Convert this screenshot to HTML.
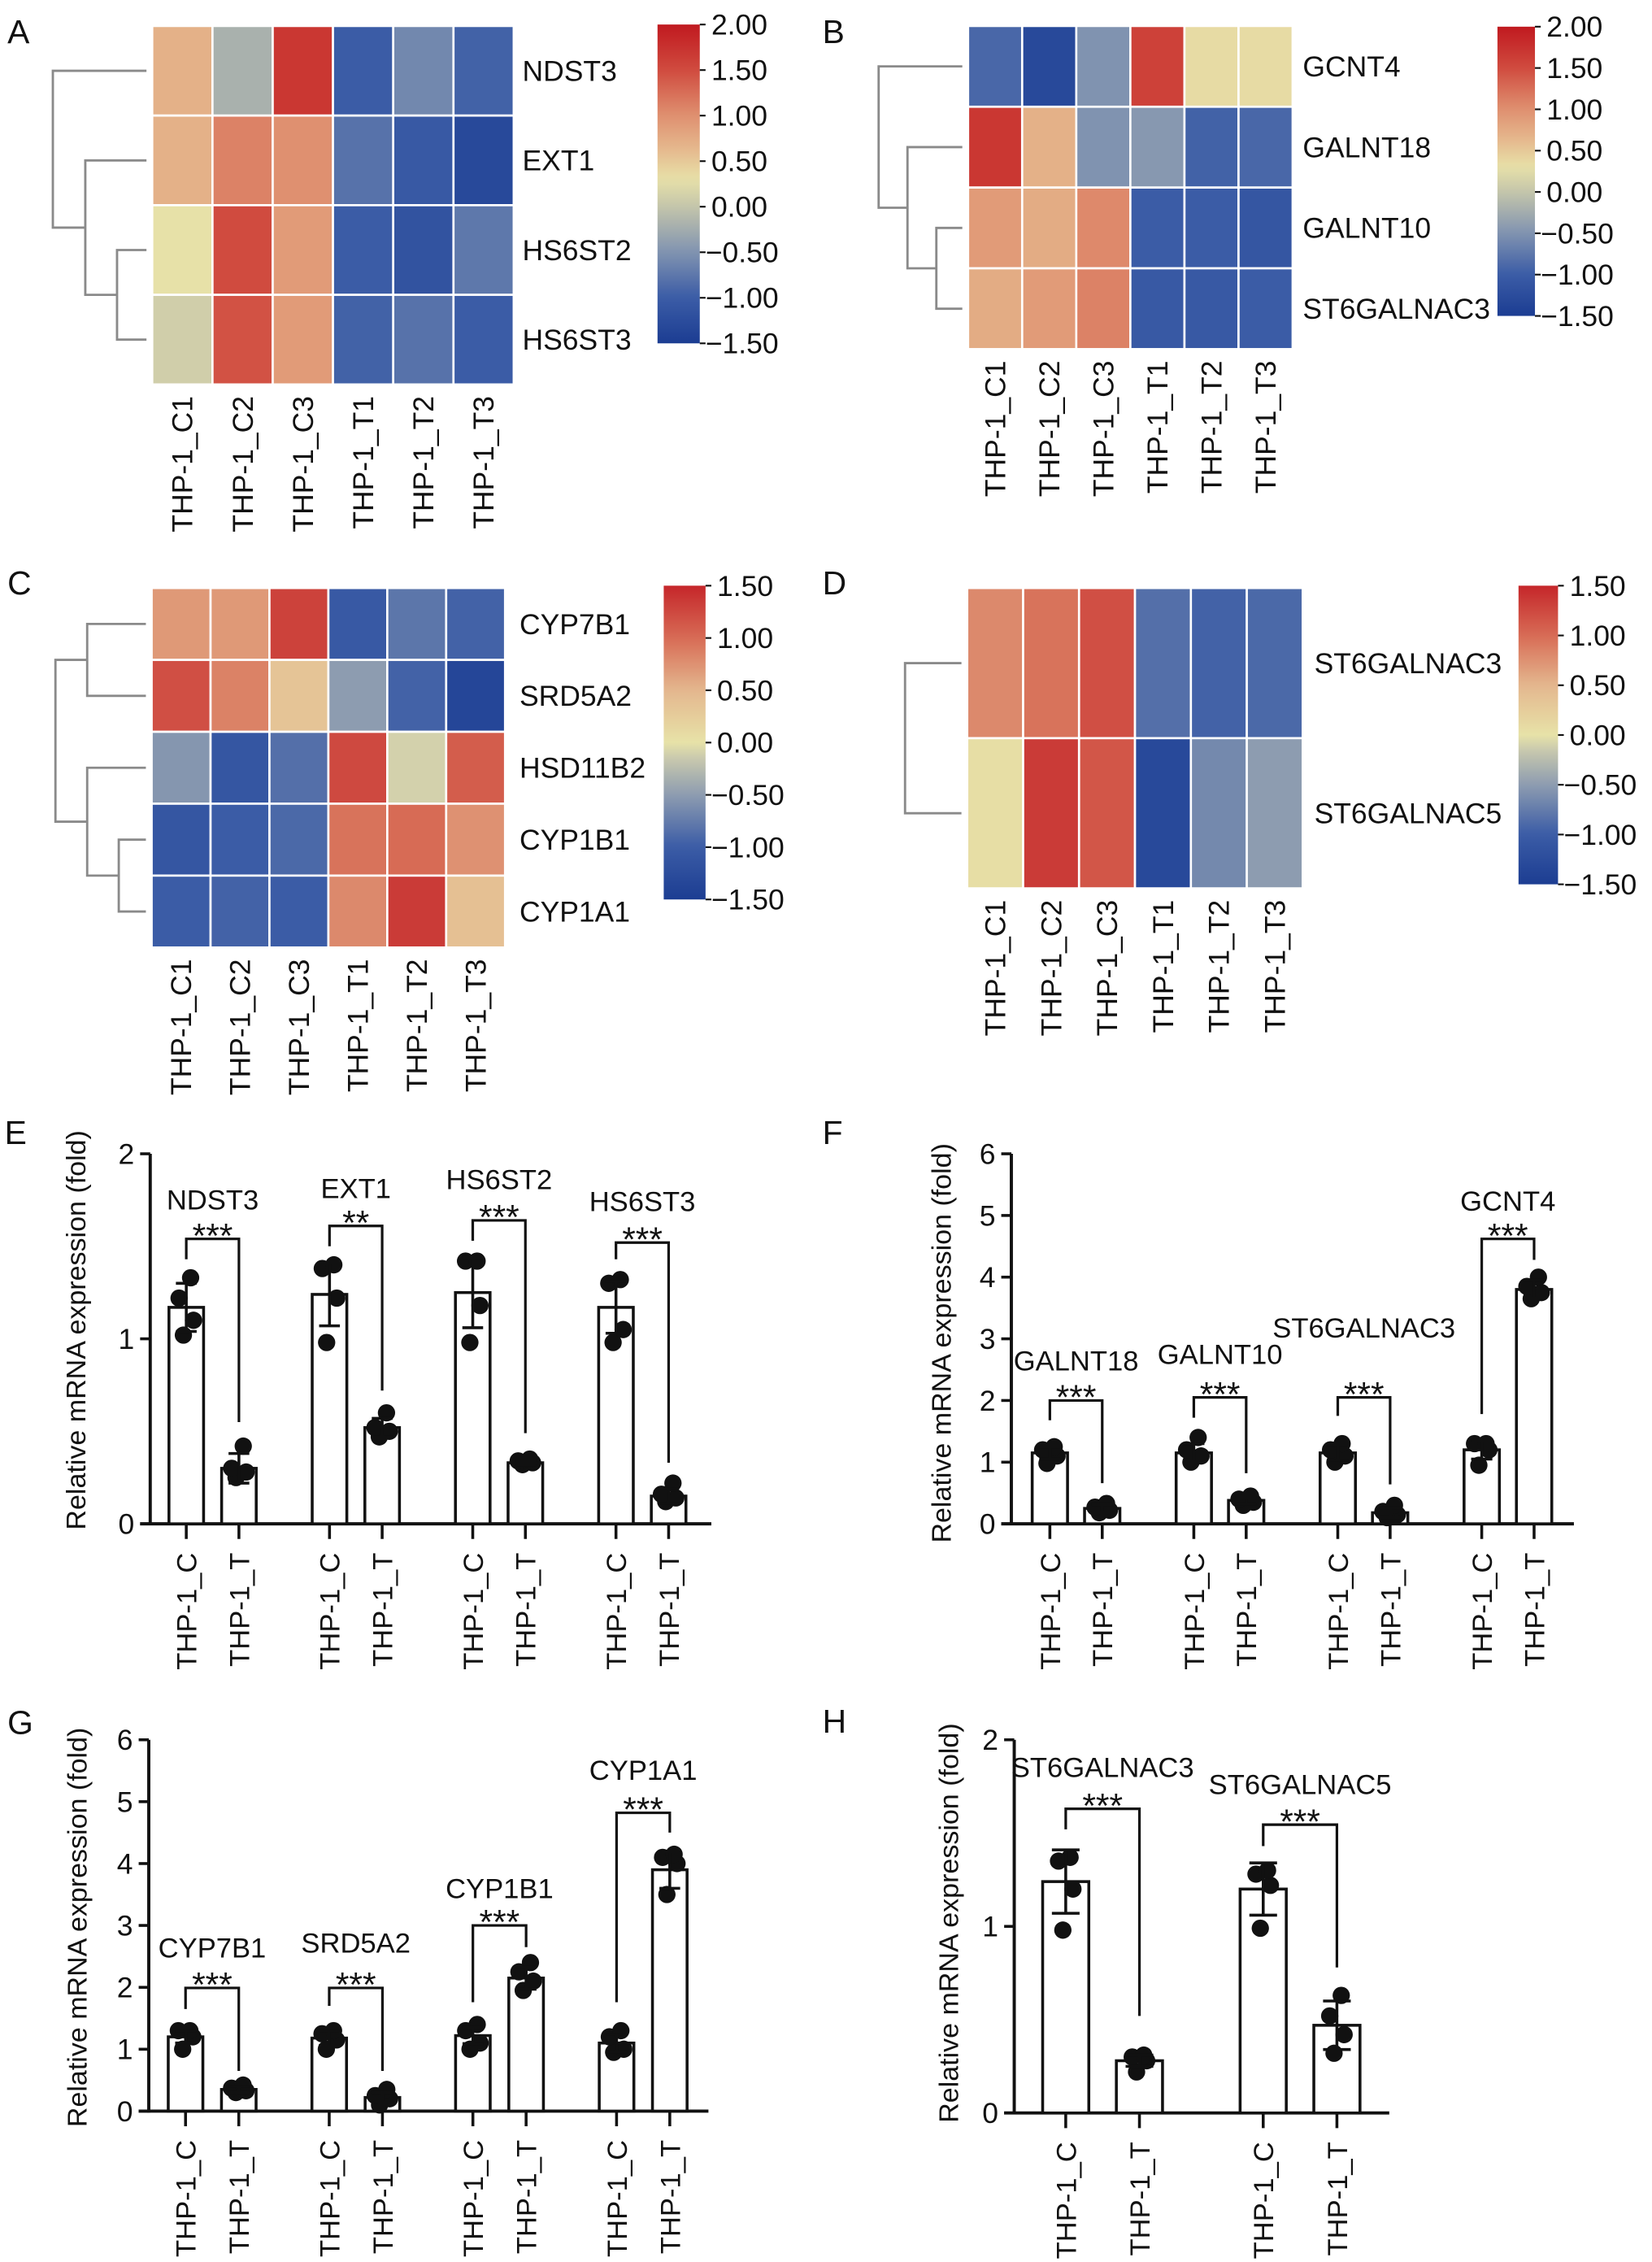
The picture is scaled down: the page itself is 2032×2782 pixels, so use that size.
<!DOCTYPE html>
<html><head><meta charset="utf-8"><style>
html,body{margin:0;padding:0;background:#fff;}
svg{display:block;font-family:"Liberation Sans",Arial,sans-serif;}
</style></head><body>
<svg id="fig" xmlns="http://www.w3.org/2000/svg" width="2032" height="2782" viewBox="0 0 1145 1568">
<rect x="0" y="0" width="1145" height="1568" fill="#fff"/>
<g font-size="23" fill="#111">
<text x="5" y="30">A</text>
<text x="570" y="30">B</text>
<text x="5" y="412">C</text>
<text x="570" y="412">D</text>
<text x="3" y="793">E</text>
<text x="570" y="793">F</text>
<text x="5" y="1202">G</text>
<text x="570" y="1201">H</text>
</g>
</svg>
<script>
// ===== Heatmap data =====
const hmCols = ['THP-1_C1','THP-1_C2','THP-1_C3','THP-1_T1','THP-1_T2','THP-1_T3'];
const rowsA = ['NDST3','EXT1','HS6ST2','HS6ST3'];
const valsA = [[0.7,-0.2,1.7,-1.0,-0.6,-0.95],[0.7,1.1,1.0,-0.8,-1.05,-1.3],[0.3,1.5,0.9,-1.0,-1.15,-0.75],[0.1,1.45,0.9,-0.95,-0.8,-1.0]];
const rowsB = ['GCNT4','GALNT18','GALNT10','ST6GALNAC3'];
const valsB = [[-0.9,-1.3,-0.5,1.6,0.35,0.35],[1.7,0.7,-0.5,-0.45,-0.95,-0.9],[0.9,0.75,1.05,-1.0,-1.0,-1.1],[0.75,0.9,1.1,-1.05,-1.05,-1.0]];
const rowsC = ['CYP7B1','SRD5A2','HSD11B2','CYP1B1','CYP1A1'];
const valsC = [[0.7,0.7,1.3,-1.05,-0.8,-0.95],[1.2,0.85,0.35,-0.5,-0.95,-1.35],[-0.55,-1.1,-0.85,1.25,-0.1,1.1],[-1.1,-1.0,-0.9,0.95,1.0,0.75],[-1.0,-0.95,-1.0,0.8,1.35,0.4]];
const rowsD = ['ST6GALNAC3','ST6GALNAC5'];
const valsD = [[0.8,0.95,1.2,-0.85,-0.95,-0.9],[0.05,1.35,1.15,-1.3,-0.65,-0.5]];
const ticksAB = [2.0,1.5,1.0,0.5,0.0,-0.5,-1.0,-1.5];
const ticksCD = [1.5,1.0,0.5,0.0,-0.5,-1.0,-1.5];
const stopsAB = [[-1.5,'#1c3d92'],[-1.0,'#3b5ca6'],[-0.5,'#8093b0'],[0.0,'#c4c5ab'],[0.3,'#e7e1a8'],[0.6,'#e6bc90'],[1.0,'#df9070'],[1.5,'#d04b3f'],[2.0,'#c0191f']];
const stopsCD = [[-1.5,'#1c3d92'],[-1.0,'#3b5ca6'],[-0.5,'#8d9cb0'],[-0.15,'#c9c9ae'],[0.0,'#e7e2a8'],[0.5,'#e4b78e'],[1.0,'#d76b55'],[1.5,'#c5262a']];

// ===== Bar chart data =====
const catsE = ['NDST3','EXT1','HS6ST2','HS6ST3'];
const meanCE = [1.17,1.24,1.25,1.17];
const sdCE = [0.13,0.17,0.19,0.14];
const ptsCE = [[1.02,1.10,1.22,1.33],[0.98,1.22,1.38,1.40],[0.98,1.18,1.42,1.42],[0.98,1.05,1.30,1.32]];
const meanTE = [0.30,0.52,0.33,0.15];
const sdTE = [0.08,0.05,0.01,0.04];
const ptsTE = [[0.25,0.28,0.30,0.42],[0.47,0.50,0.52,0.60],[0.32,0.33,0.34,0.35],[0.12,0.14,0.16,0.22]];
const sigE = ['***','**','***','***'];
const brE = [1.54,1.61,1.64,1.52];
const brLE = [1.43,1.50,1.53,1.43];
const brRE = [0.55,0.72,0.49,0.33];
const lblE = [1.70,1.76,1.81,1.69];
const ticksE = [0,1,2];

const catsF = ['GALNT18','GALNT10','ST6GALNAC3','GCNT4'];
const meanCF = [1.15,1.15,1.15,1.20];
const sdCF = [0.10,0.15,0.12,0.15];
const ptsCF = [[0.98,1.10,1.20,1.25],[1.00,1.10,1.20,1.40],[1.00,1.10,1.20,1.30],[0.95,1.20,1.30,1.30]];
const meanTF = [0.25,0.38,0.18,3.80];
const sdTF = [0.06,0.06,0.08,0.15];
const ptsTF = [[0.18,0.22,0.27,0.33],[0.30,0.35,0.40,0.45],[0.10,0.15,0.20,0.30],[3.65,3.75,3.85,4.00]];
const sigF = ['***','***','***','***'];
const brF = [2.0,2.05,2.05,4.62];
const brLF = [1.68,1.72,1.75,1.78];
const brRF = [0.66,0.82,0.64,4.28];
const lblF = [2.49,2.59,3.02,5.08];
const ticksF = [0,1,2,3,4,5,6];

const catsG = ['CYP7B1','SRD5A2','CYP1B1','CYP1A1'];
const meanCG = [1.20,1.18,1.22,1.10];
const sdCG = [0.10,0.12,0.13,0.14];
const ptsCG = [[1.00,1.20,1.30,1.30],[1.00,1.15,1.25,1.30],[1.00,1.10,1.30,1.40],[0.95,1.00,1.20,1.30]];
const meanTG = [0.35,0.22,2.15,3.90];
const sdTG = [0.05,0.08,0.18,0.30];
const ptsTG = [[0.30,0.33,0.37,0.42],[0.10,0.20,0.25,0.35],[1.95,2.10,2.25,2.40],[3.50,4.00,4.10,4.15]];
const sigG = ['***','***','***','***'];
const brG = [1.99,1.99,3.0,4.82];
const brLG = [1.65,1.70,1.76,1.76];
const brRG = [0.65,0.65,2.65,4.50];
const lblG = [2.48,2.56,3.44,5.35];
const ticksG = [0,1,2,3,4,5,6];

const catsH = ['ST6GALNAC3','ST6GALNAC5'];
const meanCH = [1.24,1.20];
const sdCH = [0.17,0.14];
const ptsCH = [[0.98,1.20,1.35,1.37],[0.99,1.22,1.28,1.30]];
const meanTH = [0.28,0.47];
const sdTH = [0.03,0.13];
const ptsTH = [[0.22,0.28,0.30,0.31],[0.32,0.42,0.52,0.63]];
const sigH = ['***','***'];
const brH = [1.63,1.545];
const brLH = [1.52,1.43];
const brRH = [0.52,0.78];
const lblH = [1.80,1.71];
const ticksH = [0,1,2];

const NS = 'http://www.w3.org/2000/svg';
const svg = document.getElementById('fig');
function el(tag, attrs, parent){
  const e = document.createElementNS(NS, tag);
  for (const k in attrs) e.setAttribute(k, attrs[k]);
  (parent||svg).appendChild(e);
  return e;
}
function hex2rgb(h){return [parseInt(h.substr(1,2),16),parseInt(h.substr(3,2),16),parseInt(h.substr(5,2),16)];}
function cmap(stops, v){
  if (v<=stops[0][0]) return stops[0][1];
  for (let i=1;i<stops.length;i++){
    if (v<=stops[i][0]){
      const t=(v-stops[i-1][0])/(stops[i][0]-stops[i-1][0]);
      const a=hex2rgb(stops[i-1][1]), b=hex2rgb(stops[i][1]);
      return 'rgb('+a.map((c,j)=>Math.round(c+(b[j]-c)*t)).join(',')+')';
    }
  }
  return stops[stops.length-1][1];
}

let gradId = 0;
function heatmap(cfg){
  const g = el('g', {});
  
  
  const nr = cfg.rows.length, nc = hmCols.length;
  const cw = (cfg.x1-cfg.x0)/nc, rh = (cfg.y1-cfg.y0)/nr;
  for (let r=0;r<nr;r++){
    for (let c=0;c<nc;c++){
      const cell = el('rect', {x:cfg.x0+c*cw, y:cfg.y0+r*rh, width:cw, height:rh, fill:cmap(cfg.stops,cfg.vals[r][c]), stroke:'#fff', 'stroke-width':1.5}, g);
      
      
    }
    const t = el('text', {x:cfg.labelX, y:cfg.y0+(r+0.5)*rh+7, 'font-size':20, fill:'#111'}, g);
    t.textContent = cfg.rows[r];
    
    
  }
  for (let c=0;c<nc;c++){
    const cx = cfg.x0+(c+0.5)*cw+7, cy = cfg.y1+8;
    const t = el('text', {x:cx, y:cy, 'font-size':20, 'text-anchor':'end', transform:'rotate(-90 '+cx+' '+cy+')', fill:'#111'}, g);
    t.textContent = hmCols[c];
    
    
  }
  const rowY = r => cfg.y0+(r+0.5)*rh;
  const leafX = cfg.x0-4;
  function drawNode(n){
    if (typeof n === 'number') return {x:leafX, y:rowY(n)};
    const a = drawNode(n.c[0]), b = drawNode(n.c[1]);
    const p = el('path', {d:'M'+a.x+' '+a.y+'H'+n.x+'V'+b.y+'H'+b.x, fill:'none', stroke:'#8a8a8a', 'stroke-width':1.6}, g);
    
    
    return {x:n.x, y:(a.y+b.y)/2};
  }
  drawNode(cfg.tree);
  const id = 'grad'+(gradId++);
  const defs = el('defs', {}, g);
  const lg = el('linearGradient', {id:id, x1:0, y1:1, x2:0, y2:0}, defs);
  const vmin = cfg.ticks[cfg.ticks.length-1], vmax = cfg.ticks[0];
  for (let i=0;i<=40;i++){
    const v = vmin+(vmax-vmin)*i/40;
    el('stop', {offset:(i/40), 'stop-color':cmap(cfg.stops,v)}, lg);
  }
  const cb = el('rect', {x:cfg.cbx0, y:cfg.cby0, width:cfg.cbx1-cfg.cbx0, height:cfg.cby1-cfg.cby0, fill:'url(#'+id+')'}, g);
  
  
  const yv = v => cfg.cby1-(v-vmin)/(vmax-vmin)*(cfg.cby1-cfg.cby0);
  cfg.ticks.forEach(v=>{
    const tk = el('line', {x1:cfg.cbx1, x2:cfg.cbx1+4, y1:yv(v), y2:yv(v), stroke:'#111', 'stroke-width':1.2}, g);
    
    
    const t = el('text', {x:cfg.cbx1+(v<0?4:8), y:yv(v)+7, 'font-size':20, fill:'#111'}, g);
    t.textContent = (v<0?'\u2212':'')+Math.abs(v).toFixed(2);
    
    
  });
}

heatmap({name:'heatmap-a', rows:rowsA, vals:valsA, stops:stopsAB, ticks:ticksAB, x0:105.4, x1:356, y0:18, y1:266.5, labelX:362,
  cbx0:455.7, cbx1:485, cby0:17, cby1:238,
  tree:{x:36.5, c:[0,{x:59, c:[1,{x:81, c:[2,3]}]}]}});
heatmap({name:'heatmap-b', rows:rowsB, vals:valsB, stops:stopsAB, ticks:ticksAB, x0:671, x1:896, y0:18, y1:242, labelX:903,
  cbx0:1038, cbx1:1064, cby0:18.5, cby1:219,
  tree:{x:609, c:[0,{x:629, c:[1,{x:649, c:[2,3]}]}]}});
heatmap({name:'heatmap-c', rows:rowsC, vals:valsC, stops:stopsCD, ticks:ticksCD, x0:105, x1:350, y0:407.6, y1:656.8, labelX:360,
  cbx0:460, cbx1:489, cby0:406, cby1:623.5,
  tree:{x:38.3, c:[{x:60.3, c:[0,1]},{x:60.3, c:[2,{x:82.2, c:[3,4]}]}]}});
heatmap({name:'heatmap-d', rows:rowsD, vals:valsD, stops:stopsCD, ticks:ticksCD, x0:670.4, x1:903, y0:407.6, y1:615.8, labelX:911,
  cbx0:1052.6, cbx1:1080, cby0:406, cby1:613,
  tree:{x:627.3, c:[0,1]}});

function barChart(cfg){
  const g = el('g', {});
  
  
  const ys = v => cfg.y0-(v/cfg.ymax)*(cfg.y0-cfg.ytop);
  const ya = el('line', {x1:cfg.ax, x2:cfg.ax, y1:cfg.y0+1, y2:cfg.ytop, stroke:'#111', 'stroke-width':2.2}, g);
  
  
  const xa = el('line', {x1:cfg.ax-7, x2:cfg.xEnd, y1:cfg.y0, y2:cfg.y0, stroke:'#111', 'stroke-width':2.2}, g);
  
  
  cfg.ticks.forEach(v=>{
    const tk = el('line', {x1:cfg.ax-7, x2:cfg.ax, y1:ys(v), y2:ys(v), stroke:'#111', 'stroke-width':2}, g);
    
    
    const t = el('text', {x:cfg.ax-11, y:ys(v)+7, 'font-size':20, 'text-anchor':'end', fill:'#111'}, g);
    t.textContent = String(v);
    
    
  });
  const yt = el('text', {x:cfg.titleX, y:cfg.titleY, 'font-size':19, 'text-anchor':'middle', transform:'rotate(-90 '+cfg.titleX+' '+cfg.titleY+')', fill:'#111', textLength:277, lengthAdjust:'spacingAndGlyphs'}, g);
  yt.textContent = 'Relative mRNA expression (fold)';
  
  
  const off = [-2,5,-5,3];
  cfg.cats.forEach((cat,i)=>{
    const cC = cfg.c0+i*cfg.step, cT = cC+cfg.dT, bw = cfg.bw;
    [[cC,cfg.meanC[i],cfg.sdC[i],cfg.ptsC[i],'THP-1_C'],[cT,cfg.meanT[i],cfg.sdT[i],cfg.ptsT[i],'THP-1_T']].forEach(b=>{
      const [cx,m,sd,pts,lab] = b;
      const r = el('rect', {x:cx-bw/2, y:ys(m), width:bw, height:cfg.y0-ys(m), fill:'#fff', stroke:'#111', 'stroke-width':2}, g);
      
      
      pts.forEach((p,k)=>{
        const d = el('circle', {cx:cx+off[k], cy:ys(p), r:6, fill:'#111'}, g);
        
        
      });
      const eb = el('path', {d:'M'+cx+' '+ys(m-sd)+'V'+ys(m+sd)+'M'+(cx-bw*0.3)+' '+ys(m+sd)+'H'+(cx+bw*0.3)+'M'+(cx-bw*0.3)+' '+ys(m-sd)+'H'+(cx+bw*0.3), stroke:'#111', 'stroke-width':2, fill:'none'}, g);
      
      
      const tk = el('line', {x1:cx, x2:cx, y1:cfg.y0, y2:cfg.y0+10.5, stroke:'#111', 'stroke-width':2}, g);
      
      
      const tx = cx+7, ty = cfg.y0+20;
      const t = el('text', {x:tx, y:ty, 'font-size':19.5, 'text-anchor':'end', transform:'rotate(-90 '+tx+' '+ty+')', fill:'#111'}, g);
      t.textContent = lab;
      
      
    });
    const br = el('path', {d:'M'+cC+' '+ys(cfg.brL[i])+'V'+ys(cfg.br[i])+'H'+cT+'V'+ys(cfg.brR[i]), fill:'none', stroke:'#111', 'stroke-width':1.8}, g);
    
    
    const st = el('text', {x:(cC+cT)/2, y:ys(cfg.br[i])+6, 'font-size':24, 'text-anchor':'middle', fill:'#111'}, g);
    st.textContent = cfg.sig[i];
    
    
    const gl = el('text', {x:(cC+cT)/2, y:ys(cfg.lbl[i]), 'font-size':19.5, 'text-anchor':'middle', fill:'#111'}, g);
    gl.textContent = cat;
    
    
  });
}

barChart({name:'bar-chart-e', cats:catsE, meanC:meanCE, sdC:sdCE, ptsC:ptsCE, meanT:meanTE, sdT:sdTE, ptsT:ptsTE, sig:sigE, br:brE, brL:brLE, brR:brRE, lbl:lblE, ticks:ticksE,
  ymax:2, ax:104, xEnd:493, y0:1056.3, ytop:799.8, c0:129, step:99.3, dT:36.5, bw:24, titleX:59, titleY:922});
barChart({name:'bar-chart-f', cats:catsF, meanC:meanCF, sdC:sdCF, ptsC:ptsCF, meanT:meanTF, sdT:sdTF, ptsT:ptsTF, sig:sigF, br:brF, brL:brLF, brR:brRF, lbl:lblF, ticks:ticksF,
  ymax:6, ax:701, xEnd:1091, y0:1056.3, ytop:799.8, c0:727.7, step:99.8, dT:36.3, bw:24.5, titleX:659, titleY:931});
barChart({name:'bar-chart-g', cats:catsG, meanC:meanCG, sdC:sdCG, ptsC:ptsCG, meanT:meanTG, sdT:sdTG, ptsT:ptsTG, sig:sigG, br:brG, brL:brLG, brR:brRG, lbl:lblG, ticks:ticksG,
  ymax:6, ax:103, xEnd:491, y0:1463.4, ytop:1206, c0:128.5, step:99.6, dT:36.9, bw:24, titleX:60, titleY:1336});
barChart({name:'bar-chart-h', cats:catsH, meanC:meanCH, sdC:sdCH, ptsC:ptsCH, meanT:meanTH, sdT:sdTH, ptsT:ptsTH, sig:sigH, br:brH, brL:brLH, brR:brRH, lbl:lblH, ticks:ticksH,
  ymax:2, ax:703, xEnd:963, y0:1464.7, ytop:1206, c0:738.7, step:136.9, dT:51.1, bw:32, titleX:664, titleY:1333});
</script>
</body></html>
